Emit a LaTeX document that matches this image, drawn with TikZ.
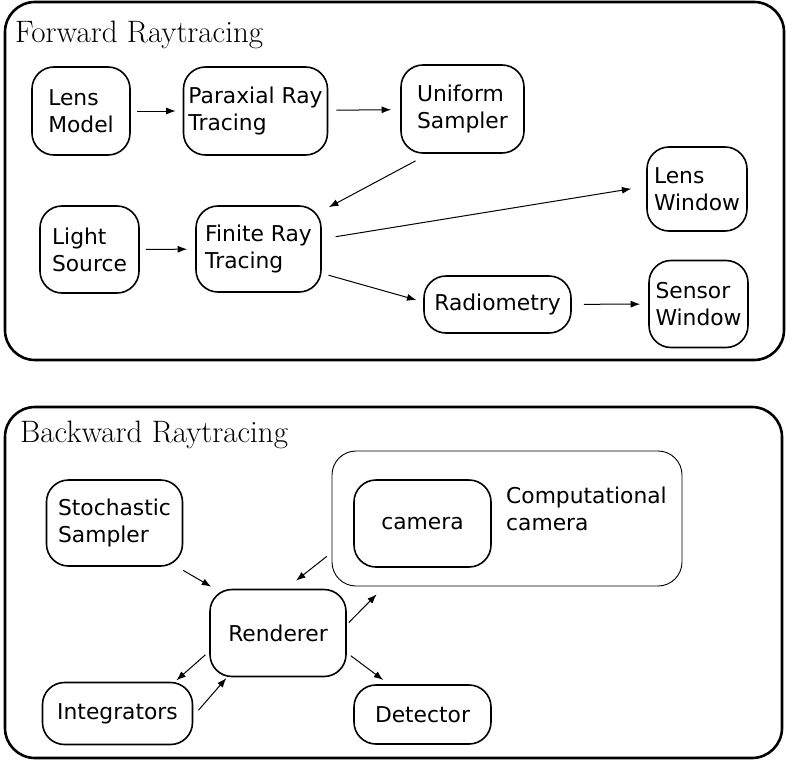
\documentclass[tikz,border=0pt]{standalone}
\usepackage{fontspec}
\newfontfamily\dejavu{DejaVu Sans}
\usetikzlibrary{arrows.meta}

\begin{document}
\begin{tikzpicture}[
  x=1pt, y=-1pt,
  frame/.style={draw, line width=2.6pt, rounded corners=30pt},
  title/.style={anchor=base west, inner sep=0pt, font=\fontsize{31}{36}\selectfont},
  blk/.style={draw, line width=1.6pt, rounded corners=22pt, inner sep=0pt,
    align=left, font=\dejavu\fontsize{21.8}{27}\selectfont},
  grp/.style={draw, line width=0.9pt, rounded corners=24pt},
  arr/.style={-{Latex[length=9.5pt,width=7pt]}, line width=1pt}
]
\useasboundingbox (0,0) rectangle (786,760);

% forward part
\node[frame, minimum width=779pt, minimum height=358pt] (fwd) at (394.5,181) {};
\node[title] (fwdt) at (15,42) {Forward Raytracing};

\node[blk, minimum width=98pt, minimum height=88pt] (lens) at (81,111) {Lens\\Model};
\node[blk, minimum width=144pt, minimum height=88pt] (parax) at (255.5,111) {Paraxial Ray\\Tracing};
\node[blk, minimum width=123pt, minimum height=88pt] (unif) at (462.5,109) {Uniform\\Sampler};
\node[blk, minimum width=100pt, minimum height=84pt] (lwin) at (697,189) {Lens\\Window};
\node[blk, minimum width=99pt, minimum height=87pt] (light) at (89.5,249.5) {Light\\Source};
\node[blk, minimum width=125pt, minimum height=86pt] (fin) at (258.5,249) {Finite Ray\\Tracing};
\node[blk, minimum width=147pt, minimum height=57pt] (radio) at (497.5,304.5) {Radiometry};
\node[blk, minimum width=99pt, minimum height=87pt] (swin) at (698.5,304) {Sensor\\Window};

\draw[arr, shorten <=6pt, shorten >=7pt] (lens) -- (parax);
\draw[arr, shorten <=8pt, shorten >=9pt] (parax) -- (unif);
\draw[arr, shorten <=15pt, shorten >=8pt] (unif.233) -- (fin.31);
\draw[arr, shorten <=14pt, shorten >=15pt] (fin.9) -- (lwin.177);
\draw[arr, shorten <=7pt, shorten >=7pt] (fin.339) -- (radio.178);
\draw[arr, shorten <=12pt, shorten >=8pt] (radio) -- (swin);
\draw[arr, shorten <=6pt, shorten >=8pt] (light) -- (fin);

% backward part
\node[frame, minimum width=777pt, minimum height=351pt] (bwd) at (393.5,582.5) {};
\node[title] (bwdt) at (20,442) {Backward Raytracing};

\node[grp, minimum width=350pt, minimum height=135pt] (comp) at (507,518.5) {};
\node[blk, minimum width=137pt, minimum height=87pt] (cam) at (422.5,523.5) {camera};
\node[anchor=north west, inner sep=0pt, align=left,
  font=\dejavu\fontsize{21.8}{27}\selectfont] (compt) at (506,487) {Computational\\camera};

\node[blk, minimum width=136pt, minimum height=86pt] (stoch) at (114.5,523) {Stochastic\\Sampler};
\node[blk, minimum width=136pt, minimum height=87pt] (rend) at (278,633) {Renderer};
\node[blk, minimum width=150pt, minimum height=62pt] (integ) at (117.5,713.5) {Integrators};
\node[blk, minimum width=137pt, minimum height=59pt] (det) at (422.5,714.5) {Detector};

\draw[arr, shorten <=7pt, shorten >=4pt] (stoch.325) -- (rend.145);
\draw[arr, shorten <=6pt, shorten >=13pt] (comp.191) -- (rend.80);
\draw[arr, shorten <=3pt, shorten >=11pt] (rend.7) -- (comp.209);
\draw[arr, shorten <=5pt, shorten >=2pt] (rend.195) -- (integ.29);
\draw[arr, shorten <=8pt, shorten >=1pt] (integ.358) -- (rend.221);
\draw[arr, shorten <=5pt, shorten >=7pt] (rend.344) -- (det.138);
\end{tikzpicture}
\end{document}
